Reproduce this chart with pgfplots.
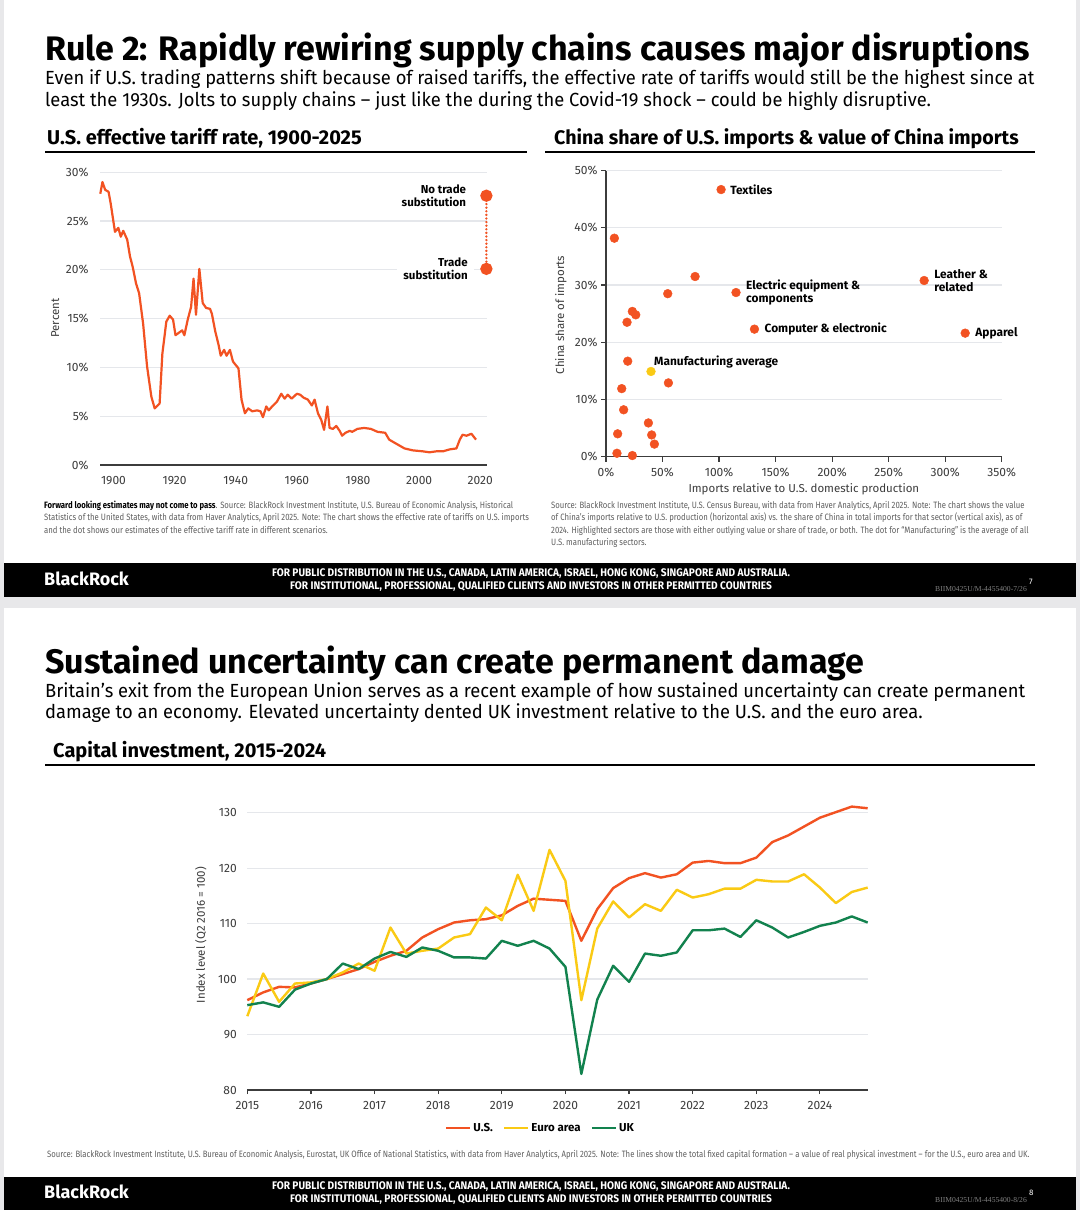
\documentclass[border=0pt]{standalone}
\usepackage{pgfplots}
\pgfplotsset{compat=1.18}
\usepackage{fontspec}
\setmainfont{Fira Sans}
\newfontfamily\brfont{Fira Sans}[FakeStretch=0.965]
\newfontfamily\notefont{Fira Sans}[FakeStretch=0.84]
\newfontfamily\footfont{Fira Sans}[FakeStretch=0.92]
\newfontfamily\codefont{Liberation Serif}
\definecolor{bror}{RGB}{242,82,34}
\definecolor{bryl}{RGB}{250,202,20}
\definecolor{brgn}{RGB}{18,130,78}
\definecolor{gridc}{RGB}{229,231,235}
\definecolor{axc}{RGB}{60,60,60}
\definecolor{notec}{RGB}{95,95,95}
\definecolor{pagegray}{RGB}{232,232,234}
\newcommand\fs[2]{\fontsize{#1}{#2}\selectfont}

\pgfplotsset{
  brbase/.style={
    scale only axis,
    anchor=south west,
    /pgf/number format/assume math mode=true,
    tick label style={font=\fs{12}{14}, text=axc},
    label style={font=\fs{11.5}{14}, text=axc},
    grid style={gridc, line width=1.2pt},
    ymajorgrids,
    clip=false,
  },
}

\begin{document}
\begin{tikzpicture}
\begin{scope}[x=1pt,y=1pt]
% page and slides
\fill[pagegray] (0,0) rectangle (1080,1210);
\fill[white] (4,1210) rectangle (1076,1210-597);
\fill[white] (4,1210-608) rectangle (1076,0);
\fill[black] (4,1210-563) rectangle (1076,1210-597);
\fill[black] (4,1210-1177) rectangle (1076,0);

% ---------- slide 1 headings
\node[anchor=base west, inner sep=0, font=\bfseries\fs{34}{40}] at (45,1210-61)
  {Rule 2: Rapidly rewiring supply chains causes major disruptions};
\node[anchor=base west, inner sep=0, font=\brfont\fs{19}{22}] at (45,1210-85)
  {Even if U.S. trading patterns shift because of raised tariffs, the effective rate of tariffs would still be the highest since at};
\node[anchor=base west, inner sep=0, font=\brfont\fs{19}{22}] at (45,1210-107)
  {least the 1930s. Jolts to supply chains – just like the during the Covid-19 shock – could be highly disruptive.};
\node[anchor=base west, inner sep=0, font=\bfseries\fs{20}{24}] at (47,1210-145)
  {U.S. effective tariff rate, 1900-2025};
\node[anchor=base west, inner sep=0, font=\bfseries\fs{19.6}{24}] at (554,1210-145)
  {China share of U.S. imports \& value of China imports};
\draw[black, line width=2.5pt] (45,1210-152) -- (527,1210-152);
\draw[black, line width=2.5pt] (545,1210-152) -- (1035,1210-152);

% ---------- slide 1 notes and footer
\begin{scope}[every node/.style={anchor=base west, inner sep=0, font=\notefont\fs{9.2}{11}, text=notec}]
\node at (44,1210-509) {\textcolor{black}{\bfseries Forward looking estimates may not come to pass}. Source: BlackRock Investment Institute, U.S. Bureau of Economic Analysis, Historical};
\node at (44,1210-521) {Statistics of the United States, with data from Haver Analytics, April 2025. Note: The chart shows the effective rate of tariffs on U.S. imports};
\node at (44,1210-534) {and the dot shows our estimates of the effective tariff rate in different scenarios.};
\node at (551,1210-509) {Source: BlackRock Investment Institute, U.S. Census Bureau, with data from Haver Analytics, April 2025. Note: The chart shows the value};
\node at (551,1210-521) {of China’s imports relative to U.S. production (horizontal axis) vs. the share of China in total imports for that sector (vertical axis), as of};
\node at (551,1210-534) {2024. Highlighted sectors are those with either outlying value or share of trade, or both. The dot for “Manufacturing” is the average of all};
\node at (551,1210-546) {U.S. manufacturing sectors.};
\end{scope}

\node[anchor=base west, inner sep=0, text=white, font=\bfseries\fs{18}{20}] at (44,1210-586) {BlackRock};
\node[anchor=center, align=center, inner sep=0, text=white, font=\footfont\bfseries\fs{11}{12.5}] at (531,1210-580)
  {FOR PUBLIC DISTRIBUTION IN THE U.S., CANADA, LATIN AMERICA, ISRAEL, HONG KONG, SINGAPORE AND AUSTRALIA.\\
   FOR INSTITUTIONAL, PROFESSIONAL, QUALIFIED CLIENTS AND INVESTORS IN OTHER PERMITTED COUNTRIES};
\node[anchor=base east, inner sep=0, text=gray, font=\codefont\fs{7.6}{8}] at (1027,1210-592) {BIIM0425U/M-4455400-7/26};
\node[anchor=base west, inner sep=0, text=white, font=\fs{8}{9}] at (1029,1210-585) {7};

% ---------- slide 2 headings
\node[anchor=base west, inner sep=0, font=\bfseries\fs{34}{40}] at (45,1210-674)
  {Sustained uncertainty can create permanent damage};
\node[anchor=base west, inner sep=0, font=\brfont\fs{19}{22}] at (45,1210-698)
  {Britain’s exit from the European Union serves as a recent example of how sustained uncertainty can create permanent};
\node[anchor=base west, inner sep=0, font=\brfont\fs{19}{22}] at (45,1210-719)
  {damage to an economy. Elevated uncertainty dented UK investment relative to the U.S. and the euro area.};
\node[anchor=base west, inner sep=0, font=\bfseries\fs{20}{24}] at (53,1210-758)
  {Capital investment, 2015-2024};
\draw[black, line width=2.5pt] (45,1210-765) -- (1035,1210-765);

% ---------- slide 2 note and footer
\node[anchor=base west, inner sep=0, text=notec, font=\notefont\fs{9.2}{10}] at (47,1210-1158)
  {Source: BlackRock Investment Institute, U.S. Bureau of Economic Analysis, Eurostat, UK Office of National Statistics, with data from Haver Analytics, April 2025. Note: The lines show the total fixed capital formation – a value of real physical investment – for the U.S., euro area and UK.};
\node[anchor=base west, inner sep=0, text=white, font=\bfseries\fs{18}{20}] at (44,1210-1199) {BlackRock};
\node[anchor=center, align=center, inner sep=0, text=white, font=\footfont\bfseries\fs{11}{12.5}] at (531,1210-1193)
  {FOR PUBLIC DISTRIBUTION IN THE U.S., CANADA, LATIN AMERICA, ISRAEL, HONG KONG, SINGAPORE AND AUSTRALIA.\\
   FOR INSTITUTIONAL, PROFESSIONAL, QUALIFIED CLIENTS AND INVESTORS IN OTHER PERMITTED COUNTRIES};
\node[anchor=base east, inner sep=0, text=gray, font=\codefont\fs{7.6}{8}] at (1027,1210-1203) {BIIM0425U/M-4455400-8/26};
\node[anchor=base west, inner sep=0, text=white, font=\fs{8}{9}] at (1029,1210-1196) {8};
\end{scope}

% ---------- left chart: tariff rate
\begin{axis}[brbase,
  at={(100pt,745pt)}, width=387pt, height=292.7pt,
  xmin=1895.6, xmax=2022.2, ymin=0, ymax=30,
  axis x line*=bottom, axis y line*=left,
  x axis line style={axc, line width=2.5pt},
  y axis line style={draw=none},
  major tick length=0pt,
  xtick={1900,1920,...,2020}, ytick={0,5,...,30},
  x tick label style={/pgf/number format/1000 sep={}, yshift=-8pt},
  yticklabel={\pgfmathprintnumber{\tick}\%},
  y tick label style={xshift=-8pt},
  ylabel={Percent},
  ylabel style={at={(axis description cs:-0.116,0.502)}, anchor=center},
]
\addplot[bror, line width=2.2pt, line join=round] coordinates {
(1895.7,27.8) (1896.4,29.0) (1897.3,28.2) (1898.4,28.0) (1899.1,26.8) (1900.5,23.9)
(1901.6,24.3) (1902.4,23.4) (1903.2,24.0) (1904.5,23.1) (1905.4,21.4) (1906.3,20.3)
(1907.4,18.6) (1908.4,17.6) (1909.7,14.5) (1911.0,10.1) (1912.4,7.0) (1913.5,5.8)
(1915.1,6.3) (1916.0,11.4) (1917.3,14.7) (1918.4,15.3) (1919.5,14.9) (1920.3,13.3)
(1921.6,13.6) (1922.5,13.8) (1923.2,13.3) (1924.3,14.9) (1925.4,16.2) (1926.2,19.1)
(1927.0,15.4) (1928.1,20.1) (1929.2,16.6) (1930.3,16.1) (1931.6,16.0) (1932.2,15.5)
(1933.3,13.7) (1934.4,12.3) (1935.1,11.2) (1936.2,11.8) (1937.0,11.2) (1938.1,11.8)
(1939.1,10.6) (1940.9,9.9) (1941.9,6.7) (1943.0,5.3) (1944.1,5.8) (1945.4,5.5)
(1947.0,5.6) (1948.1,5.5) (1948.9,4.9) (1950.0,6.0) (1950.8,5.6) (1951.9,6.0)
(1953.5,6.5) (1954.9,7.3) (1956.0,6.8) (1957.0,7.2) (1958.3,6.8) (1960.0,7.3)
(1961.1,7.2) (1962.2,6.9) (1963.6,6.7) (1964.9,6.1) (1965.8,6.7) (1966.9,5.3)
(1968.0,4.6) (1968.9,3.6) (1970.0,6.0) (1970.7,3.8) (1971.8,3.7) (1972.9,4.0)
(1974.0,3.5) (1974.8,3.0) (1975.9,3.3) (1977.3,3.5) (1978.1,3.4) (1979.8,3.7)
(1982.0,3.8) (1984.2,3.7) (1986.4,3.4) (1988.9,3.3) (1990.2,2.6) (1992.4,2.2)
(1995.2,1.7) (1997.9,1.5) (2001.2,1.4) (2003.4,1.3) (2005.6,1.4) (2007.8,1.4)
(2010.0,1.6) (2012.2,1.7) (2013.3,2.6) (2014.2,3.1) (2015.5,3.0) (2017.1,3.2)
(2018.6,2.6)};
\node[anchor=east, align=right, inner sep=0, font=\bfseries\fs{11.5}{13.5}]
  at (axis cs:2015.4,27.6) {No trade\\substitution};
\node[anchor=east, align=right, fill=white, inner xsep=6pt, inner ysep=1pt, font=\bfseries\fs{11.5}{13.5}]
  at (axis cs:2017.9,20.1) {Trade\\substitution};
\addplot[bror, line width=2.6pt, line cap=round, dash pattern=on 0pt off 3.6pt,
  mark=*, mark size=4.8pt, mark options={solid}] coordinates {(2022.0,20.1) (2022.0,27.6)};
\end{axis}

% ---------- right chart: China share scatter
\begin{axis}[brbase,
  at={(606pt,753.3pt)}, width=395.7pt, height=286pt,
  xmin=0, xmax=350, ymin=0, ymax=50,
  axis x line*=bottom, axis y line*=left,
  axis line style={axc, line width=1.6pt},
  tick style={axc, line width=1.2pt}, major tick length=5pt, tick align=outside,
  xtick={0,50,...,350}, ytick={0,10,...,50},
  xticklabel={\pgfmathprintnumber{\tick}\%},
  yticklabel={\pgfmathprintnumber{\tick}\%},
  x tick label style={yshift=-3pt},
  xlabel={Imports relative to U.S. domestic production},
  xlabel style={at={(axis description cs:0.5,-0.113)}, anchor=center},
  ylabel={China share of imports},
  ylabel style={at={(axis description cs:-0.114,0.495)}, anchor=center},
]
\addplot[only marks, mark=*, mark size=4.4pt, bror] coordinates {
(7.4,38.2) (101.8,46.7) (78.8,31.5) (115.0,28.7) (54.6,28.5) (23.3,25.4) (26.3,24.8)
(18.6,23.5) (131.3,22.3) (19.2,16.7) (55.2,12.9) (13.9,11.9) (15.6,8.2) (37.5,5.9)
(40.4,3.8) (42.8,2.2) (10.3,4.0) (9.7,0.6) (23.3,0.2) (281.4,30.8) (317.7,21.6)};
\addplot[only marks, mark=*, mark size=4.4pt, bryl] coordinates {(39.8,14.9)};
\begin{scope}[every node/.style={font=\bfseries\fs{11.9}{13.5}, inner sep=0, align=left}]
\node[anchor=west, xshift=9pt] at (axis cs:101.8,46.7) {Textiles};
\node[anchor=west, xshift=10pt] at (axis cs:115.0,28.7) {Electric equipment \&\\components};
\node[anchor=west, xshift=10pt] at (axis cs:131.3,22.3) {Computer \& electronic};
\node[anchor=west, xshift=10pt] at (axis cs:281.4,30.8) {Leather \&\\related};
\node[anchor=west, xshift=10pt] at (axis cs:317.7,21.6) {Apparel};
\node[anchor=west, xshift=3pt, yshift=9pt] at (axis cs:39.8,14.9) {Manufacturing average};
\end{scope}
\end{axis}

% ---------- bottom chart: capital investment
\begin{axis}[brbase,
  at={(247.3pt,120pt)}, width=621pt, height=277.3pt,
  xmin=2015, xmax=2024.76, ymin=80, ymax=130,
  axis x line*=bottom, axis y line*=left,
  x axis line style={axc, line width=2pt},
  y axis line style={draw=none},
  xtick={2015,...,2024}, ytick={80,90,...,130},
  x tick style={axc, line width=1.2pt}, y tick style={draw=none},
  major tick length=4pt, tick align=outside,
  x tick label style={/pgf/number format/1000 sep={}, yshift=-4pt},
  y tick label style={xshift=-3pt},
  ylabel={Index level (Q2 2016 = 100)},
  ylabel style={at={(axis description cs:-0.0746,0.559)}, anchor=center},
  legend columns=3,
  legend style={draw=none, fill=none, at={(axis description cs:0.472,-0.137)}, anchor=center,
    font=\bfseries\fs{11.5}{13}, /tikz/every even column/.append style={column sep=8pt}},
  legend image code/.code={\draw[#1, line width=2.5pt] (0pt,0pt) -- (24pt,0pt);},
  every axis plot/.append style={line width=2.4pt, line join=round},
]
\addplot[bror] coordinates {
(2015.00,96.2) (2015.25,97.6) (2015.50,98.6) (2015.75,98.5) (2016.00,99.2) (2016.25,100.0)
(2016.50,100.9) (2016.75,101.8) (2017.00,103.1) (2017.25,104.2) (2017.50,105.1) (2017.75,107.5)
(2018.00,109.0) (2018.25,110.2) (2018.50,110.6) (2018.75,110.8) (2019.00,111.5) (2019.25,113.2)
(2019.50,114.5) (2019.75,114.3) (2020.00,114.1) (2020.25,106.9) (2020.50,112.6) (2020.75,116.4)
(2021.00,118.2) (2021.25,119.1) (2021.50,118.3) (2021.75,118.9) (2022.00,121.0) (2022.25,121.3)
(2022.50,120.9) (2022.75,120.9) (2023.00,121.9) (2023.25,124.7) (2023.50,125.9) (2023.75,127.5)
(2024.00,129.1) (2024.25,130.1) (2024.50,131.1) (2024.75,130.8)};
\addlegendentry{U.S.}
\addplot[bryl] coordinates {
(2015.00,93.3) (2015.25,101.0) (2015.50,95.9) (2015.75,99.2) (2016.00,99.4) (2016.25,100.0)
(2016.50,101.2) (2016.75,102.8) (2017.00,101.5) (2017.25,109.3) (2017.50,104.6) (2017.75,105.1)
(2018.00,105.5) (2018.25,107.5) (2018.50,108.1) (2018.75,112.9) (2019.00,110.6) (2019.25,118.8)
(2019.50,112.3) (2019.75,123.3) (2020.00,117.7) (2020.25,96.2) (2020.50,109.1) (2020.75,114.0)
(2021.00,111.1) (2021.25,113.5) (2021.50,112.3) (2021.75,116.1) (2022.00,114.7) (2022.25,115.3)
(2022.50,116.3) (2022.75,116.3) (2023.00,117.9) (2023.25,117.6) (2023.50,117.6) (2023.75,118.9)
(2024.00,116.5) (2024.25,113.7) (2024.50,115.7) (2024.75,116.5)};
\addlegendentry{Euro area}
\addplot[brgn] coordinates {
(2015.00,95.3) (2015.25,95.8) (2015.50,95.0) (2015.75,98.1) (2016.00,99.2) (2016.25,100.0)
(2016.50,102.8) (2016.75,101.8) (2017.00,103.7) (2017.25,104.9) (2017.50,104.0) (2017.75,105.7)
(2018.00,105.1) (2018.25,103.9) (2018.50,103.9) (2018.75,103.7) (2019.00,106.9) (2019.25,106.0)
(2019.50,106.9) (2019.75,105.5) (2020.00,102.2) (2020.25,82.9) (2020.50,96.3) (2020.75,102.4)
(2021.00,99.5) (2021.25,104.6) (2021.50,104.2) (2021.75,104.8) (2022.00,108.8) (2022.25,108.8)
(2022.50,109.1) (2022.75,107.6) (2023.00,110.6) (2023.25,109.3) (2023.50,107.5) (2023.75,108.5)
(2024.00,109.6) (2024.25,110.2) (2024.50,111.3) (2024.75,110.2)};
\addlegendentry{UK}
\end{axis}
\end{tikzpicture}
\end{document}
